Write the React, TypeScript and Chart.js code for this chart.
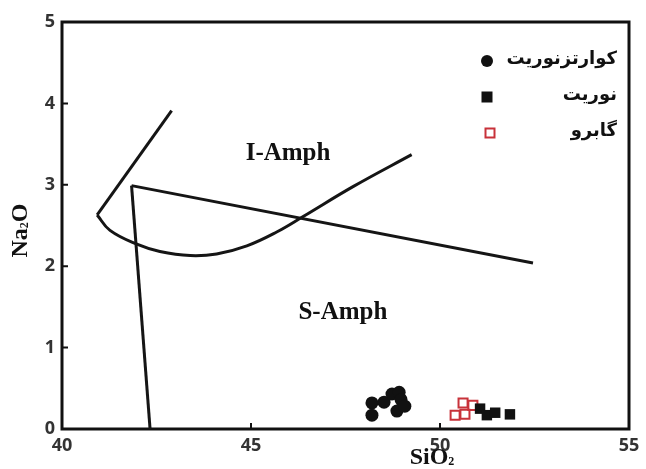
import React, { useEffect, useRef } from "react";
import { Chart, registerables } from "chart.js";

Chart.register(...registerables);

// ---- Data ----
const xTicks = [40, 45, 50, 55];
const yTicks = [0, 1, 2, 3, 4, 5];

const quartzNoriteX = [48.2, 48.2, 48.52, 48.73, 48.92, 48.97, 48.86, 49.07];
const quartzNoriteY = [0.32, 0.17, 0.33, 0.43, 0.45, 0.36, 0.22, 0.28];

const noriteX = [51.06, 51.24, 51.46, 51.85];
const noriteY = [0.25, 0.17, 0.2, 0.18];

const gabbroX = [50.61, 50.87, 50.4, 50.66];
const gabbroY = [0.32, 0.29, 0.17, 0.18];

// boundary lines
const verticalX = [41.84, 42.33];
const verticalY = [2.99, 0];
const diagonalX = [41.84, 52.46];
const diagonalY = [2.99, 2.04];
const upperX = [42.9, 40.93];
const upperY = [3.91, 2.63];
const curveX = [40.93, 41.27, 41.98, 42.59, 43.39, 44.09, 44.89, 45.68, 46.38, 47.71, 49.25];
const curveY = [2.63, 2.44, 2.27, 2.18, 2.13, 2.15, 2.25, 2.42, 2.61, 2.98, 3.37];

const fieldLabels = ["I-Amph", "S-Amph"];
const fieldX = [45.98, 47.43];
const fieldY = [3.38, 1.43];

const legendLabels = ["کوارتزنوریت", "نوریت", "گابرو"];

const pts = (xs: number[], ys: number[]) => xs.map((x, i) => ({ x, y: ys[i] }));

const RED = "#c8323a";

function drawSubText(ctx: CanvasRenderingContext2D, parts: [string, boolean][], cx: number, cy: number, size: number) {
  const big = `bold ${size}px "Liberation Serif", "Times New Roman", serif`;
  const small = `bold ${Math.round(size * 0.5)}px "Liberation Serif", "Times New Roman", serif`;
  let total = 0;
  const widths = parts.map(([t, sub]) => {
    ctx.font = sub ? small : big;
    const w = ctx.measureText(t).width;
    total += w;
    return w;
  });
  let x = cx - total / 2;
  ctx.textBaseline = "alphabetic";
  ctx.textAlign = "left";
  parts.forEach(([t, sub], i) => {
    ctx.font = sub ? small : big;
    ctx.fillText(t, x, cy + size * 0.35 + (sub ? size * 0.02 : 0));
    x += widths[i];
  });
}

const decorPlugin = {
  id: "decor",
  beforeDatasetsDraw(chart: any) {
    const { ctx, chartArea: a, scales } = chart;
    const x = scales.x;
    const y = scales.y;
    ctx.save();
    ctx.strokeStyle = "#111";
    ctx.lineWidth = 3;
    ctx.strokeRect(a.left, a.top, a.right - a.left, a.bottom - a.top);
    ctx.lineWidth = 2;
    ctx.beginPath();
    xTicks.forEach((v) => {
      const px = x.getPixelForValue(v);
      ctx.moveTo(px, a.bottom);
      ctx.lineTo(px, a.bottom - 6);
    });
    yTicks.forEach((v) => {
      const py = y.getPixelForValue(v);
      ctx.moveTo(a.left, py);
      ctx.lineTo(a.left + 6, py);
    });
    ctx.stroke();
    ctx.restore();
  },
  afterDraw(chart: any) {
    const { ctx, chartArea: a, scales } = chart;
    const x = scales.x;
    const y = scales.y;
    ctx.save();
    ctx.fillStyle = "#111";
    // field labels
    ctx.font = 'bold 25px "Liberation Serif", "Times New Roman", serif';
    ctx.textAlign = "center";
    ctx.textBaseline = "middle";
    fieldLabels.forEach((t, i) => {
      ctx.fillText(t, x.getPixelForValue(fieldX[i]), y.getPixelForValue(fieldY[i]));
    });
    // axis titles
    drawSubText(ctx, [["SiO", false], ["2", true]], 432, 456, 24);
    ctx.save();
    ctx.translate(19, (a.top + a.bottom) / 2 + 5);
    ctx.rotate(-Math.PI / 2);
    drawSubText(ctx, [["Na", false], ["2", true], ["O", false]], 0, 0, 24);
    ctx.restore();
    // legend
    const mx = a.right - 142;
    const tx = a.right - 12;
    const rows = [a.top + 39, a.top + 75, a.top + 111];
    ctx.beginPath();
    ctx.arc(mx, rows[0], 6, 0, Math.PI * 2);
    ctx.fillStyle = "#111";
    ctx.fill();
    ctx.fillRect(mx - 5.5, rows[1] - 5.5, 11, 11);
    ctx.strokeStyle = RED;
    ctx.lineWidth = 2;
    ctx.strokeRect(mx + 3 - 4.5, rows[2] - 4.5, 9, 9);
    ctx.fillStyle = "#111";
    ctx.font = 'bold 18px "DejaVu Sans", sans-serif';
    (ctx as any).direction = "rtl";
    ctx.textAlign = "right";
    ctx.textBaseline = "middle";
    legendLabels.forEach((t, i) => {
      ctx.fillText(t, tx, rows[i] - 2);
    });
    ctx.restore();
  },
};

export default function App() {
  const ref = useRef<HTMLCanvasElement>(null);
  useEffect(() => {
    document.body.style.margin = "0";
    const canvas = ref.current!;
    const lineDs = (xs: number[], ys: number[], tension = 0) => ({
      type: "line" as const,
      data: pts(xs, ys),
      showLine: true,
      borderColor: "#151515",
      borderWidth: 3,
      pointRadius: 0,
      tension,
      fill: false,
    });
    const chart = new Chart(canvas, {
      type: "scatter",
      data: {
        datasets: [
          {
            label: "نوریت",
            data: pts(noriteX, noriteY),
            pointStyle: "rect",
            pointRadius: 7.4,
            backgroundColor: "#111",
            borderColor: "#111",
            borderWidth: 0,
          },
          {
            label: "گابرو",
            data: pts(gabbroX, gabbroY),
            pointStyle: "rect",
            pointRadius: 6.4,
            backgroundColor: "rgba(255,255,255,0)",
            borderColor: RED,
            borderWidth: 2,
          },
          {
            label: "کوارتزنوریت",
            data: pts(quartzNoriteX, quartzNoriteY),
            pointStyle: "circle",
            pointRadius: 6.5,
            backgroundColor: "#111",
            borderColor: "#111",
            borderWidth: 0,
          },
          lineDs(verticalX, verticalY),
          lineDs(diagonalX, diagonalY),
          lineDs(upperX, upperY),
          lineDs(curveX, curveY, 0.4),
        ] as any,
      },
      options: {
        responsive: false,
        animation: false,
        events: [],
        layout: { padding: { top: 22, right: 17, left: 0, bottom: 0 } },
        plugins: { legend: { display: false }, tooltip: { enabled: false } },
        scales: {
          x: {
            type: "linear",
            min: 40,
            max: 55,
            afterBuildTicks: (s: any) => {
              s.ticks = xTicks.map((v) => ({ value: v }));
            },
            afterFit: (s: any) => {
              s.height = 40;
            },
            grid: { display: false, drawTicks: false },
            border: { display: false },
            ticks: {
              padding: 6,
              color: "#333",
              font: { family: '"Open Sans", sans-serif', size: 18, weight: "bold" },
              maxRotation: 0,
            },
          },
          y: {
            type: "linear",
            min: 0,
            max: 5,
            afterBuildTicks: (s: any) => {
              s.ticks = yTicks.map((v) => ({ value: v }));
            },
            afterFit: (s: any) => {
              s.width = 62;
            },
            grid: { display: false, drawTicks: false },
            border: { display: false },
            ticks: {
              padding: 7,
              color: "#333",
              font: { family: '"Open Sans", sans-serif', size: 18, weight: "bold" },
            },
          },
        },
      },
      plugins: [decorPlugin],
    });
    return () => chart.destroy();
  }, []);
  return (
    <div style={{ width: 646, height: 469, background: "#fff" }}>
      <canvas ref={ref} width={646} height={469} style={{ display: "block" }} />
    </div>
  );
}
